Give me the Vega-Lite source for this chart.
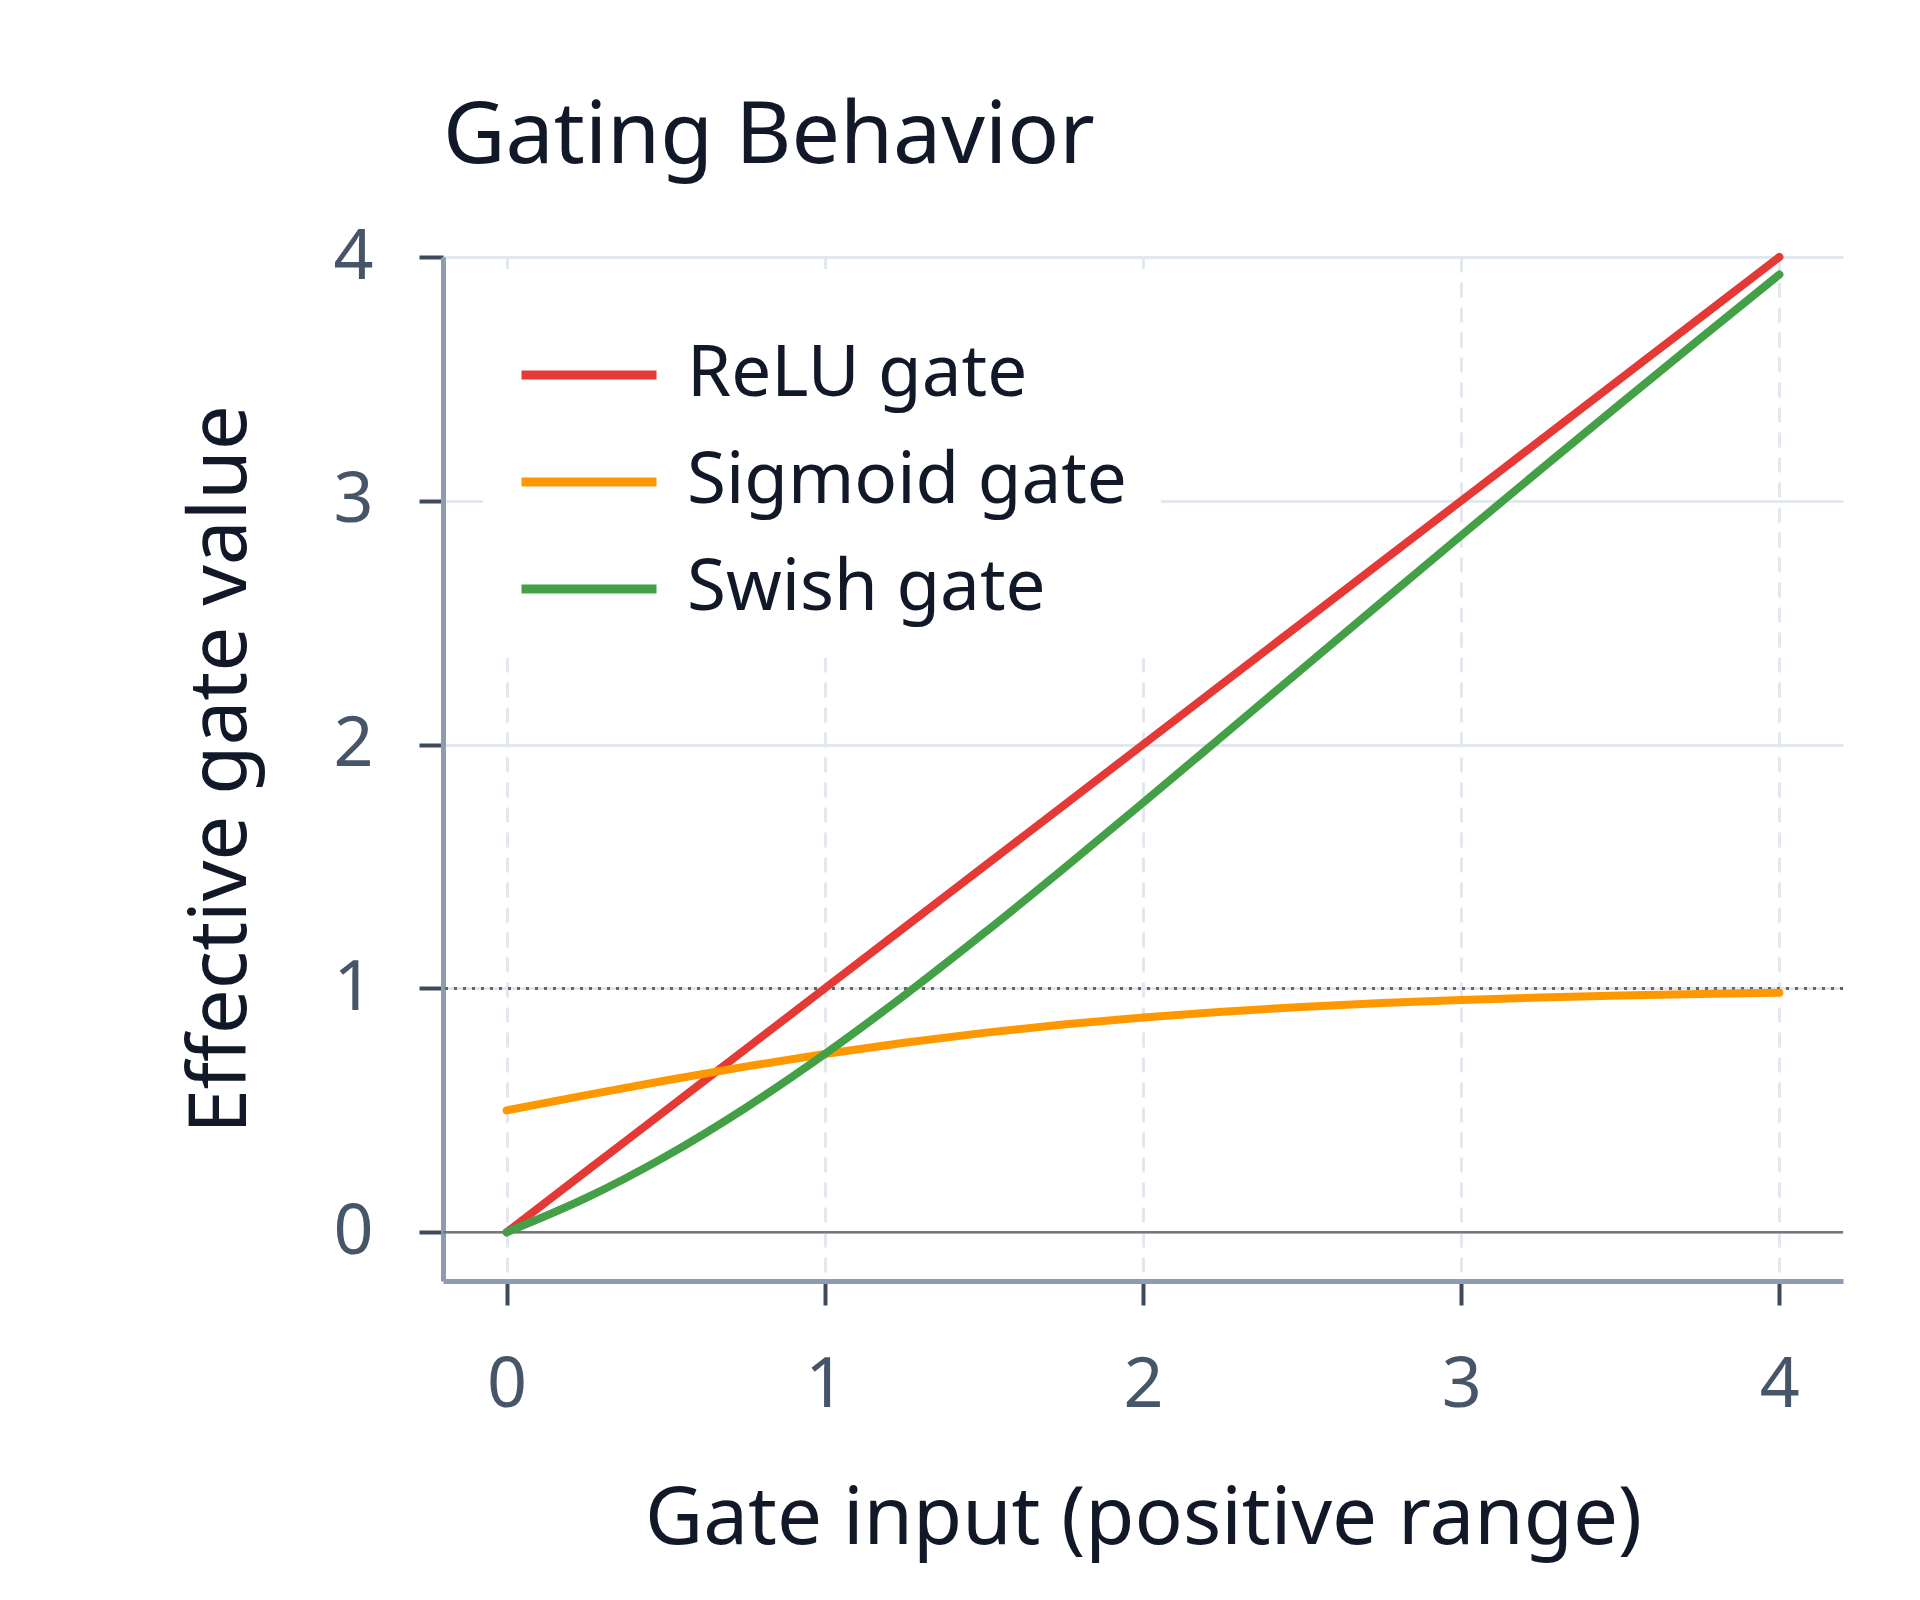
{
  "$schema": "https://vega.github.io/schema/vega-lite/v6.json",
  "width": 1400,
  "height": 1024,
  "autosize": {"type": "none"},
  "padding": {"left": 443, "top": 257, "right": 77, "bottom": 319},
  "background": "white",
  "title": {
    "text": "Gating Behavior",
    "anchor": "start",
    "frame": "group",
    "font": "Noto Sans",
    "fontSize": 86,
    "fontWeight": "normal",
    "color": "#111827",
    "baseline": "alphabetic",
    "offset": -27
  },
  "layer": [
    {
      "data": {"values": [{"y": 0}]},
      "mark": {"type": "rule", "color": "#767676", "strokeWidth": 2.5},
      "encoding": {
        "y": {
          "field": "y",
          "type": "quantitative",
          "scale": {"domain": [-0.2, 4], "nice": false, "zero": false},
          "axis": {"values": [0, 1, 2, 3, 4], "titlePadding": 70},
          "title": "Effective gate value"
        }
      }
    },
    {
      "data": {"values": [{"y": 1}]},
      "mark": {"type": "rule", "color": "#5f6670", "strokeWidth": 3, "strokeDash": [3, 6]},
      "encoding": {
        "y": {
          "field": "y",
          "type": "quantitative",
          "scale": {"domain": [-0.2, 4], "nice": false, "zero": false},
          "axis": {"values": [0, 1, 2, 3, 4], "titlePadding": 70},
          "title": "Effective gate value"
        }
      }
    },
    {
      "data": {
        "values": [
          {"x": 0, "y": 0, "gate": "ReLU gate"},
          {"x": 0.25, "y": 0.25, "gate": "ReLU gate"},
          {"x": 0.5, "y": 0.5, "gate": "ReLU gate"},
          {"x": 0.75, "y": 0.75, "gate": "ReLU gate"},
          {"x": 1, "y": 1, "gate": "ReLU gate"},
          {"x": 1.25, "y": 1.25, "gate": "ReLU gate"},
          {"x": 1.5, "y": 1.5, "gate": "ReLU gate"},
          {"x": 1.75, "y": 1.75, "gate": "ReLU gate"},
          {"x": 2, "y": 2, "gate": "ReLU gate"},
          {"x": 2.25, "y": 2.25, "gate": "ReLU gate"},
          {"x": 2.5, "y": 2.5, "gate": "ReLU gate"},
          {"x": 2.75, "y": 2.75, "gate": "ReLU gate"},
          {"x": 3, "y": 3, "gate": "ReLU gate"},
          {"x": 3.25, "y": 3.25, "gate": "ReLU gate"},
          {"x": 3.5, "y": 3.5, "gate": "ReLU gate"},
          {"x": 3.75, "y": 3.75, "gate": "ReLU gate"},
          {"x": 4, "y": 4, "gate": "ReLU gate"},
          {"x": 0, "y": 0.5, "gate": "Sigmoid gate"},
          {"x": 0.25, "y": 0.5622, "gate": "Sigmoid gate"},
          {"x": 0.5, "y": 0.6225, "gate": "Sigmoid gate"},
          {"x": 0.75, "y": 0.6792, "gate": "Sigmoid gate"},
          {"x": 1, "y": 0.7311, "gate": "Sigmoid gate"},
          {"x": 1.25, "y": 0.7773, "gate": "Sigmoid gate"},
          {"x": 1.5, "y": 0.8176, "gate": "Sigmoid gate"},
          {"x": 1.75, "y": 0.852, "gate": "Sigmoid gate"},
          {"x": 2, "y": 0.8808, "gate": "Sigmoid gate"},
          {"x": 2.25, "y": 0.9047, "gate": "Sigmoid gate"},
          {"x": 2.5, "y": 0.9241, "gate": "Sigmoid gate"},
          {"x": 2.75, "y": 0.9399, "gate": "Sigmoid gate"},
          {"x": 3, "y": 0.9526, "gate": "Sigmoid gate"},
          {"x": 3.25, "y": 0.9627, "gate": "Sigmoid gate"},
          {"x": 3.5, "y": 0.9707, "gate": "Sigmoid gate"},
          {"x": 3.75, "y": 0.977, "gate": "Sigmoid gate"},
          {"x": 4, "y": 0.982, "gate": "Sigmoid gate"},
          {"x": 0, "y": 0, "gate": "Swish gate"},
          {"x": 0.25, "y": 0.1406, "gate": "Swish gate"},
          {"x": 0.5, "y": 0.3112, "gate": "Swish gate"},
          {"x": 0.75, "y": 0.5094, "gate": "Swish gate"},
          {"x": 1, "y": 0.7311, "gate": "Swish gate"},
          {"x": 1.25, "y": 0.9716, "gate": "Swish gate"},
          {"x": 1.5, "y": 1.2264, "gate": "Swish gate"},
          {"x": 1.75, "y": 1.491, "gate": "Swish gate"},
          {"x": 2, "y": 1.7616, "gate": "Swish gate"},
          {"x": 2.25, "y": 2.0356, "gate": "Swish gate"},
          {"x": 2.5, "y": 2.3103, "gate": "Swish gate"},
          {"x": 2.75, "y": 2.5847, "gate": "Swish gate"},
          {"x": 3, "y": 2.8577, "gate": "Swish gate"},
          {"x": 3.25, "y": 3.1288, "gate": "Swish gate"},
          {"x": 3.5, "y": 3.3975, "gate": "Swish gate"},
          {"x": 3.75, "y": 3.6638, "gate": "Swish gate"},
          {"x": 4, "y": 3.9281, "gate": "Swish gate"}
        ]
      },
      "mark": {"type": "line", "strokeWidth": 8, "strokeCap": "round", "interpolate": "monotone"},
      "encoding": {
        "x": {
          "field": "x",
          "type": "quantitative",
          "scale": {"domain": [-0.2, 4.2], "nice": false, "zero": false},
          "axis": {"values": [0, 1, 2, 3, 4], "gridDash": [15, 10]},
          "title": "Gate input (positive range)"
        },
        "y": {
          "field": "y",
          "type": "quantitative",
          "scale": {"domain": [-0.2, 4], "nice": false, "zero": false},
          "axis": {"values": [0, 1, 2, 3, 4], "titlePadding": 70},
          "title": "Effective gate value"
        },
        "color": {
          "field": "gate",
          "type": "nominal",
          "scale": {
            "domain": ["ReLU gate", "Sigmoid gate", "Swish gate"],
            "range": ["#e53935", "#ff9800", "#43a047"]
          },
          "legend": {
            "orient": "none",
            "legendX": 40,
            "legendY": 12,
            "padding": 34,
            "fillColor": "white",
            "symbolType": "stroke",
            "symbolSize": 18225,
            "symbolStrokeWidth": 9,
            "labelOffset": 26,
            "rowPadding": -29.5,
            "title": null
          }
        }
      }
    }
  ],
  "config": {
    "view": {"stroke": null},
    "axis": {
      "format": "d",
      "grid": true,
      "gridColor": "#e3e8ef",
      "gridWidth": 3,
      "domainColor": "#8e9cb1",
      "domainWidth": 5,
      "tickColor": "#3d4a5c",
      "tickWidth": 4,
      "tickSize": 24,
      "labelFont": "Noto Sans",
      "labelFontSize": 70,
      "labelColor": "#475569",
      "labelPadding": 46,
      "titleFont": "Noto Sans",
      "titleFontSize": 80,
      "titleFontWeight": "normal",
      "titleColor": "#111827",
      "titlePadding": 60
    },
    "legend": {
      "labelFont": "Noto Sans",
      "labelFontSize": 71,
      "labelColor": "#111827",
      "labelLimit": 0
    }
  }
}
